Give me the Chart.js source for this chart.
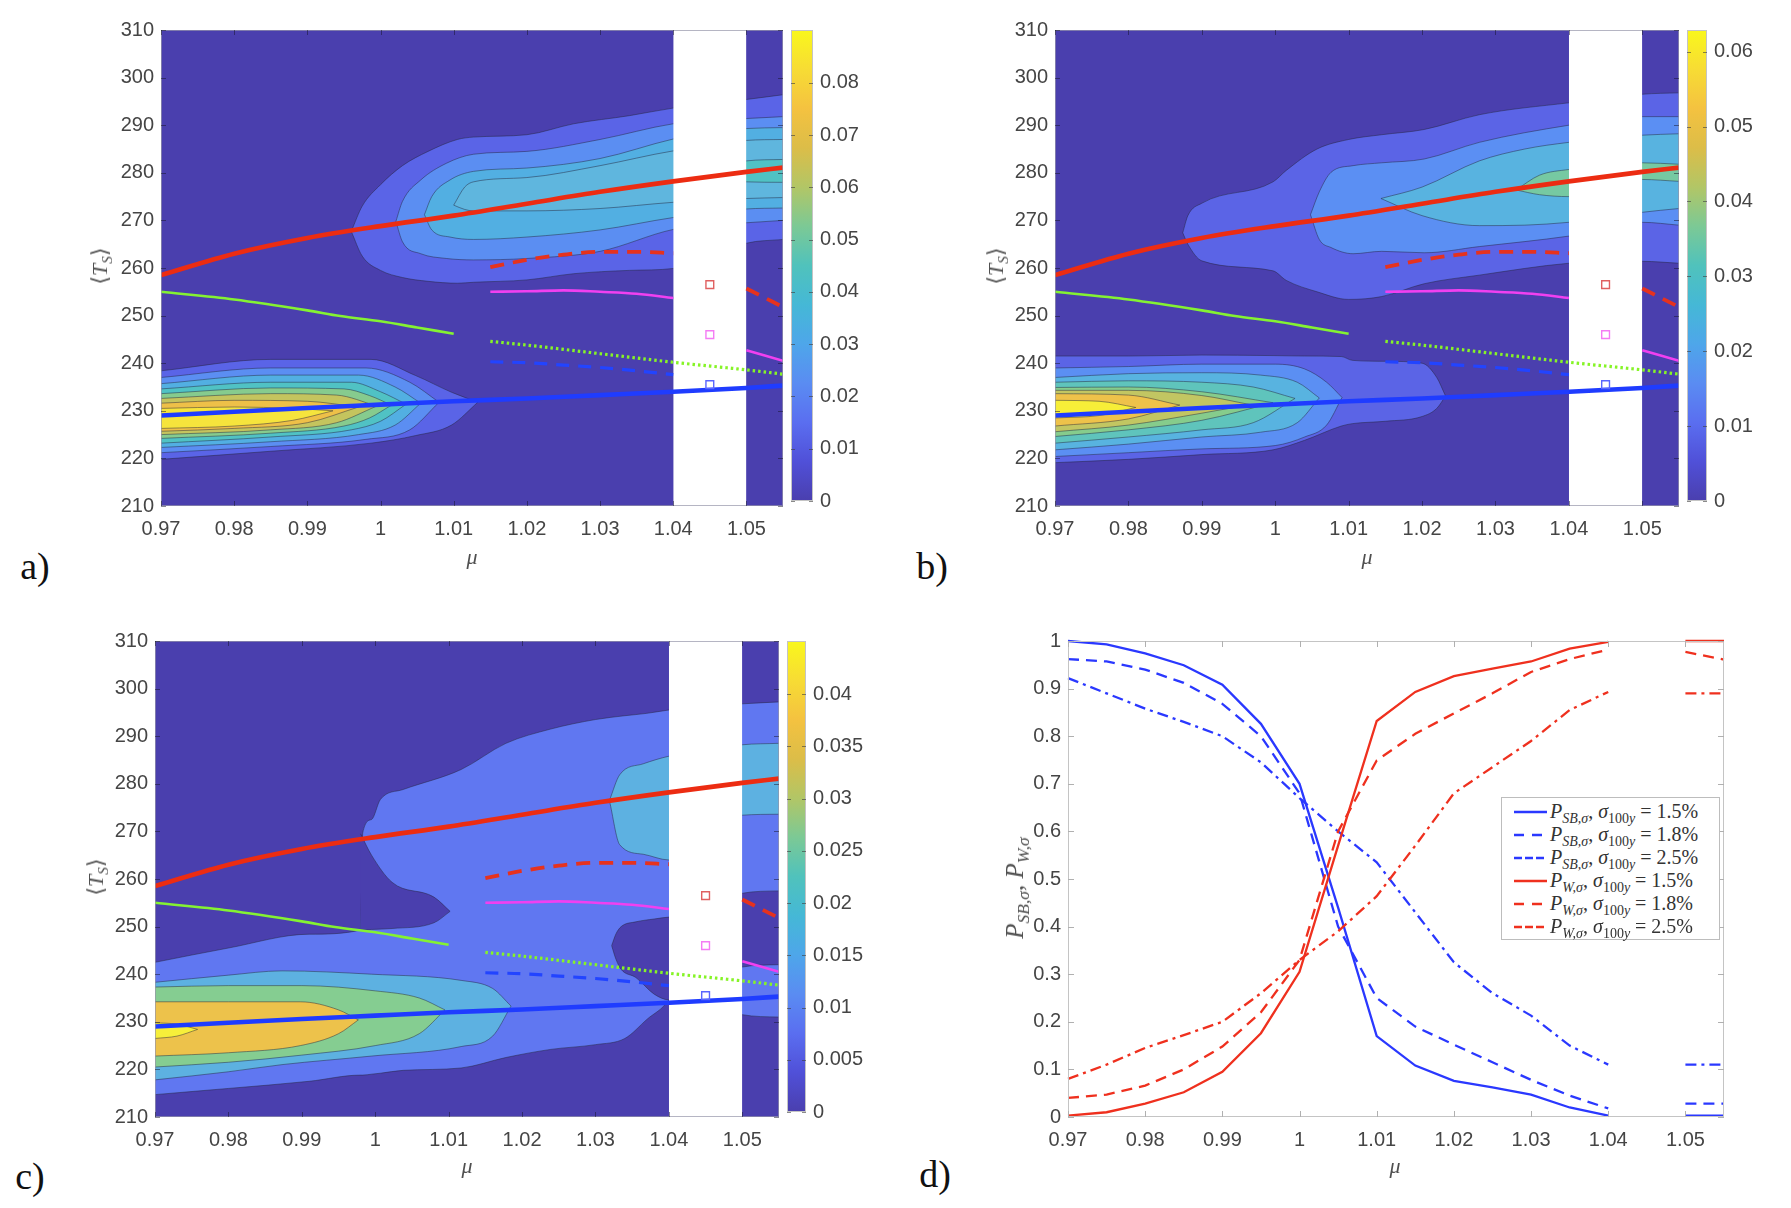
<!DOCTYPE html>
<html>
<head>
<meta charset="utf-8">
<title>Contour panels</title>
<script src="https://cdn.jsdelivr.net/npm/chart.js@4.4.1/dist/chart.umd.min.js"></script>
<style>
  html, body { margin: 0; padding: 0; background: #fff; }
  body { position: relative; width: 1791px; height: 1208px; overflow: hidden; }
  .panel { position: absolute; }
  .txt { position: absolute; font-family: "Liberation Serif", "DejaVu Serif", serif; color: #505050; white-space: nowrap; transform: translate(-50%, -50%); }
  .tag { font-size: 38px; color: #111; }
  .ax { font-size: 22px; }
  .py { font-size: 25px; }
  .rot { transform: translate(-50%, -50%) rotate(-90deg); }
  .legend { position: absolute; background: #fff; border: 1px solid #bdbdbd; font-family: "Liberation Serif", "DejaVu Serif", serif; font-size: 20px; color: #333; padding: 2px 4px 0 12px; box-sizing: border-box; }
  .legend div { height: 23px; display: flex; align-items: center; white-space: nowrap; }
  .legend svg { margin-right: 3px; flex: none; }
  sub { font-size: 70%; line-height: 0; }
</style>
</head>
<body>
<div class="panel" id="wa"><canvas id="ca"></canvas></div>
<div class="panel" id="wb"><canvas id="cb"></canvas></div>
<div class="panel" id="wc"><canvas id="cc"></canvas></div>
<div class="panel" id="wd"><canvas id="cd"></canvas></div>
<div class="panel" id="wka"><canvas id="cka"></canvas></div>
<div class="panel" id="wkb"><canvas id="ckb"></canvas></div>
<div class="panel" id="wkc"><canvas id="ckc"></canvas></div>
<div class="legend" id="leg"></div>

<div class="txt tag" style="left:35px;top:566px">a)</div>
<div class="txt tag" style="left:932px;top:566px">b)</div>
<div class="txt tag" style="left:30px;top:1176px">c)</div>
<div class="txt tag" style="left:935px;top:1174px">d)</div>
<div class="txt ax" style="left:472px;top:557px"><i>μ</i></div>
<div class="txt ax" style="left:1367px;top:557px"><i>μ</i></div>
<div class="txt ax" style="left:467px;top:1166px"><i>μ</i></div>
<div class="txt ax" style="left:1395px;top:1166px"><i>μ</i></div>
<div class="txt ax rot" style="left:100px;top:266px">⟨<i>T</i><sub><i>S</i></sub>⟩</div>
<div class="txt ax rot" style="left:996px;top:266px">⟨<i>T</i><sub><i>S</i></sub>⟩</div>
<div class="txt ax rot" style="left:96px;top:877px">⟨<i>T</i><sub><i>S</i></sub>⟩</div>
<div class="txt py rot" style="left:1015px;top:888px"><i>P</i><sub><i>SB,σ</i></sub>, <i>P</i><sub><i>W,σ</i></sub></div>

<script>
// ---- axes ----
var muTicks = [0.97, 0.98, 0.99, 1, 1.01, 1.02, 1.03, 1.04, 1.05];
var muRange = [0.97, 1.055];
var tsTicks = [210, 220, 230, 240, 250, 260, 270, 280, 290, 300, 310];
var tsRange = [210, 310];
var pTicks = [0, 0.1, 0.2, 0.3, 0.4, 0.5, 0.6, 0.7, 0.8, 0.9, 1];
var gapMu = [1.04, 1.05];

// colorbars
var cbTicksA = [0, 0.01, 0.02, 0.03, 0.04, 0.05, 0.06, 0.07, 0.08];
var cbMaxA = 0.0901;
var cbTicksB = [0, 0.01, 0.02, 0.03, 0.04, 0.05, 0.06];
var cbMaxB = 0.0629;
var cbTicksC = [0, 0.005, 0.01, 0.015, 0.02, 0.025, 0.03, 0.035, 0.04];
var cbMaxC = 0.0451;

// ---- curves drawn over the contours (same in a, b, c) ----
var redMu = [0.97, 0.98, 0.99, 1.0, 1.01, 1.02, 1.03, 1.04, 1.05, 1.055];
var redT = [258.5, 263, 266.3, 268.8, 271, 273.5, 276, 278.2, 280.2, 281.1];
var blueT = [229, 229.8, 230.6, 231.3, 232, 232.6, 233.3, 234, 234.8, 235.3];
var greenMu = [0.97, 0.98, 0.99, 0.9945, 1.0, 1.005, 1.01];
var greenT = [255, 253.4, 251.1, 249.9, 248.8, 247.5, 246.2];
var dotMu = [1.015, 1.02, 1.03, 1.04, 1.05, 1.055];
var dotT = [244.6, 243.8, 242, 240.2, 238.6, 237.7];
var rdashMu = [1.015, 1.02, 1.025, 1.03, 1.035, 1.04, 1.045, 1.05, 1.055];
var rdashT = [260.2, 261.7, 262.8, 263.4, 263.4, 263.1, null, 255.7, 251.8];
var magT = [255, 255.1, 255.3, 255, 254.6, 253.7, null, 242.7, 240.5];
var bdashMu = [1.015, 1.02, 1.025, 1.03, 1.035, 1.04];
var bdashT = [240.3, 240.1, 239.6, 239.1, 238.4, 237.6];
var sqMu = [1.045, 1.045, 1.045];
var sqT = [256.5, 246, 235.5];

// ---- panel a contours ----
var a_l1_mu = [0.97, 0.985, 0.9987, 1.0048, 1.0097, 1.0133];
var a_l1_top = [238.4, 240.8, 240.8, 237.4, 233.9, 231.8];
var a_l1_bot = [219.8, 221.5, 223.2, 224.8, 227, 231.8];
var a_l2_mu = [0.97, 0.985, 0.998, 1.004, 1.008];
var a_l2_top = [237, 239, 239, 236, 231.8];
var a_l2_bot = [221.2, 222.5, 224, 226, 231.8];
var a_l3_mu = [0.97, 0.985, 0.997, 1.002, 1.0055];
var a_l3_top = [235.7, 237.5, 237.5, 235, 231.6];
var a_l3_bot = [222.3, 223.5, 225, 227, 231.6];
var a_l4_mu = [0.97, 0.985, 0.996, 1.0, 1.0035];
var a_l4_top = [234.6, 236, 236, 234, 231.4];
var a_l4_bot = [223.2, 224.5, 226, 227.8, 231.4];
var a_l5_mu = [0.97, 0.985, 0.995, 0.9985, 1.0015];
var a_l5_top = [233.6, 234.8, 234.6, 233.2, 231.2];
var a_l5_bot = [224.2, 225.3, 226.8, 228.5, 231.2];
var a_l6_mu = [0.97, 0.985, 0.994, 0.9995];
var a_l6_top = [232.6, 233.6, 233.3, 231];
var a_l6_bot = [225, 226, 227.5, 231];
var a_l7_mu = [0.97, 0.98, 0.99, 0.997];
var a_l7_top = [231.6, 232.2, 232, 230.8];
var a_l7_bot = [225.7, 226.3, 227.5, 230.8];
var a_l8_mu = [0.97, 0.98, 0.988, 0.9935];
var a_l8_top = [230.5, 230.8, 230.5, 230];
var a_l8_bot = [226.3, 226.8, 228, 230];
var a_u1_mu = [0.996, 0.9975, 1.0, 1.003, 1.0065, 1.0105, 1.0127, 1.02, 1.0264, 1.034, 1.04, 1.045, 1.05, 1.055];
var a_u1_top = [267.7, 273, 277.5, 281.5, 284.5, 287, 287.5, 288, 290.3, 292, 293.6, 294.5, 295.4, 296.4];
var a_u1_bot = [267.7, 262.5, 259.5, 258, 257.2, 256.8, 257, 257.5, 258.8, 259.5, 259.9, 262, 265.2, 266];
var a_u2_mu = [1.0021, 1.003, 1.0055, 1.009, 1.0127, 1.02, 1.03, 1.04, 1.045, 1.05, 1.055];
var a_u2_top = [269.8, 274, 278.5, 282, 283.9, 284.5, 287, 290.3, 291, 291.4, 291.8];
var a_u2_bot = [269.8, 265.5, 263, 262, 261.7, 262, 263.5, 268.1, 269, 269.5, 270];
var a_u3_mu = [1.006, 1.007, 1.0095, 1.0127, 1.02, 1.03, 1.04, 1.045, 1.05, 1.055];
var a_u3_top = [271.2, 275, 278.5, 280.3, 281, 283, 287.1, 288.5, 289.3, 289.5];
var a_u3_bot = [271.2, 268, 266.5, 266, 266.5, 268, 270.6, 271.5, 272.4, 272.6];
var a_u4_mu = [1.01, 1.0115, 1.0127, 1.02, 1.03, 1.04, 1.045, 1.05, 1.055];
var a_u4_top = [273.2, 277, 278.1, 279, 281.5, 284.6, 285.5, 286.8, 287];
var a_u4_bot = [273.2, 272.3, 272, 272, 272.5, 273.8, 274.2, 274.6, 274.8];
var a_u5_mu = [1.045, 1.05, 1.055];
var a_u5_top = [280.3, 282.5, 282.8];
var a_u5_bot = [280.3, 278.1, 278];
var aColors = ['#5a64e7', '#5b8ef2', '#52afe2', '#50c2c4', '#86cb8e', '#c4c45e', '#eec048', '#f6e43c'];
var aCoreColor = '#5fb6de';

// ---- panel b contours ----
var b_l1_mu = [0.97, 0.98, 0.99, 0.9997, 1.004, 1.009, 1.0105, 1.015, 1.02, 1.022, 1.0232];
var b_l1_top = [241.5, 241.5, 241.7, 241.6, 241.5, 241.4, 240.6, 240.4, 240, 237, 233.1];
var b_l1_bot = [219.1, 219.8, 220.8, 221.8, 223.8, 226.8, 227.3, 227.8, 228.8, 230.5, 233.1];
var b_l2_mu = [0.97, 0.98, 0.99, 1.0, 1.004, 1.007, 1.0091];
var b_l2_top = [239, 239.3, 239.8, 239.8, 238.8, 236, 232.8];
var b_l2_bot = [220.4, 221.2, 222, 222.7, 224.5, 227, 232.8];
var b_l3_mu = [0.97, 0.98, 0.99, 0.998, 1.003, 1.006];
var b_l3_top = [237, 237.8, 238, 237.5, 236, 232.7];
var b_l3_bot = [221.8, 223, 224.5, 225.5, 227.5, 232.7];
var b_l4_mu = [0.97, 0.98, 0.99, 0.997, 1.0027];
var b_l4_top = [236, 236.3, 236, 235, 232.6];
var b_l4_bot = [223.2, 224.5, 226, 227.5, 232.6];
var b_l5_mu = [0.97, 0.98, 0.99, 0.9997];
var b_l5_top = [234.9, 235, 234, 231.7];
var b_l5_bot = [224.6, 226, 228, 231.7];
var b_l6_mu = [0.97, 0.98, 0.99, 0.9966];
var b_l6_top = [234.3, 234.3, 233.2, 231.3];
var b_l6_bot = [225.6, 227, 229.5, 231.3];
var b_l7_mu = [0.97, 0.98, 0.987];
var b_l7_top = [233.6, 233.3, 231.2];
var b_l7_bot = [226.8, 228.3, 231.2];
var b_l8_mu = [0.97, 0.976, 0.981];
var b_l8_top = [232.2, 232, 230.7];
var b_l8_bot = [228.5, 229, 230.7];
var b_u1_mu = [0.9874, 0.9881, 0.99, 0.9997, 1.0015, 1.0057, 1.01, 1.0145, 1.0203, 1.0278, 1.04, 1.045, 1.05, 1.055];
var b_u1_top = [267.4, 271, 273.6, 278.1, 280.5, 285, 287, 288, 289.1, 292.2, 294.7, 295.5, 296.5, 296.8];
var b_u1_bot = [267.4, 265, 261.5, 259.4, 257.4, 255, 253.4, 254, 256.7, 258.5, 261, 261.3, 261.4, 261];
var b_u2_mu = [1.0048, 1.006, 1.0076, 1.0106, 1.0145, 1.0203, 1.0278, 1.04, 1.045, 1.05, 1.055];
var b_u2_top = [271.2, 276, 280.1, 281.5, 282.1, 282.9, 286.4, 290, 291, 291.8, 291.8];
var b_u2_bot = [271.2, 266, 264.3, 263, 263.5, 263.2, 264.5, 266.7, 268, 269.6, 269];
var b_u3_mu = [1.0144, 1.02, 1.0278, 1.034, 1.04, 1.045, 1.05, 1.055];
var b_u3_top = [274.6, 277, 282.5, 285, 286.4, 287.2, 287.9, 288.2];
var b_u3_bot = [274.6, 271, 268.9, 269, 269.6, 270.5, 271.7, 272.5];
var b_u4_mu = [1.0328, 1.036, 1.04, 1.045, 1.05, 1.055];
var b_u4_top = [276.4, 279.5, 280.7, 281.5, 282.1, 281.8];
var b_u4_bot = [276.4, 275.4, 275, 276.5, 278.6, 278.2];
var bColors = ['#5b64e6', '#5b8ff3', '#58b3e0', '#5fc4bc', '#86cc8c', '#c2c662', '#eec24a', '#f7ee38'];
var bCoreColor = '#76c9a2';

// ---- panel c contours ----
var c_l1_mu = [0.97, 0.98, 0.991, 0.998, 0.9983, 0.9995, 1.0007, 1.0038, 1.0117, 1.0178, 1.0239, 1.03, 1.034, 1.037, 1.04, 1.045, 1.05, 1.055];
var c_l1_top = [242.5, 245.5, 248.4, 249.3, 269.7, 272.5, 276.7, 278.8, 283, 288.5, 291.5, 293.5, 294.3, 294.8, 295.5, 296.2, 296.8, 297.2];
var c_l1_bot = [214.7, 216, 217.5, 218.8, 218.8, 219, 219.2, 219.8, 220.3, 222.5, 224.2, 225.2, 226.5, 230.5, 234.6, 250, 257, 257.5];
var c_nose_mu = [0.998, 0.9995, 1.0023, 1.008, 1.0102];
var c_nose_top = [269.5, 265, 259.3, 256.2, 253.2];
var c_nose_bot = [249.3, 249.4, 249.6, 250.8, 253.2];
var c_bay_mu = [1.0322, 1.0328, 1.0335, 1.0355, 1.038, 1.04, 1.045];
var c_bay_top = [246, 248.5, 250, 251, 251.6, 252, 252.5];
var c_bay_bot = [246, 243.1, 241, 239.3, 235.8, 234.6, 234.5];
var c_l2_mu = [0.97, 0.98, 0.9873, 0.9995, 1.0117, 1.016, 1.0185];
var c_l2_top = [238.3, 239.8, 240.7, 240, 238.7, 237, 233.3];
var c_l2_bot = [217.8, 219.5, 221, 222.8, 224.8, 227, 233.3];
var c_u2_mu = [1.0319, 1.0333, 1.0365, 1.04, 1.045, 1.05, 1.055];
var c_u2_top = [276.5, 281.9, 284.2, 285.8, 287, 288.2, 288.5];
var c_u2_bot = [276.5, 267.2, 265.2, 264, 268, 273.4, 273.6];
var c_r1_mu = [1.045, 1.05, 1.055];
var c_r1_top = [236, 241.5, 242];
var c_r1_bot = [236, 231.5, 231];
var c_l3_mu = [0.97, 0.98, 0.99, 1.0, 1.006, 1.0095];
var c_l3_top = [237.3, 237.6, 237.6, 236.5, 235, 232.5];
var c_l3_bot = [220.5, 221.5, 223, 225, 227.5, 232.5];
var c_l4_mu = [0.97, 0.98, 0.9898, 0.995, 0.9977];
var c_l4_top = [234.2, 234.2, 234.2, 232.5, 230.4];
var c_l4_bot = [222.8, 223.5, 225, 227.5, 230.4];
var c_l5_mu = [0.97, 0.973, 0.9758];
var c_l5_top = [229.8, 229.5, 228.4];
var c_l5_bot = [226.5, 227, 228.4];
var cColors = ['#6077f1', '#5db1e1', '#85cd91', '#edc24b', '#f7ef3a'];

// ---- panel d ----
var dMu = [0.97, 0.975, 0.98, 0.985, 0.99, 0.995, 1.0, 1.005, 1.01, 1.015, 1.02, 1.025, 1.03, 1.035, 1.04, 1.045, 1.05, 1.055];
var pSB15 = [1.0, 0.993, 0.974, 0.949, 0.908, 0.826, 0.70, 0.44, 0.17, 0.108, 0.076, 0.062, 0.047, 0.02, 0.003, null, 0.003, 0.003];
var pSB18 = [0.962, 0.957, 0.94, 0.912, 0.868, 0.80, 0.68, 0.40, 0.25, 0.19, 0.152, 0.115, 0.078, 0.045, 0.018, null, 0.028, 0.028];
var pSB25 = [0.922, 0.89, 0.858, 0.83, 0.80, 0.745, 0.67, 0.60, 0.535, 0.43, 0.325, 0.26, 0.213, 0.15, 0.11, null, 0.11, 0.11];
var pW15 = [0.003, 0.01, 0.028, 0.052, 0.095, 0.176, 0.305, 0.57, 0.832, 0.893, 0.926, 0.942, 0.957, 0.984, 0.998, null, 1.0, 1.0];
var pW18 = [0.04, 0.047, 0.066, 0.10, 0.148, 0.22, 0.33, 0.60, 0.749, 0.805, 0.848, 0.89, 0.935, 0.962, 0.982, null, 0.977, 0.961];
var pW25 = [0.08, 0.11, 0.145, 0.172, 0.20, 0.26, 0.33, 0.39, 0.464, 0.57, 0.68, 0.735, 0.79, 0.855, 0.893, null, 0.89, 0.89];
var dNames = ['SB', 'SB', 'SB', 'W', 'W', 'W'];
var dSigmas = ['1.5%', '1.8%', '2.5%', '1.5%', '1.8%', '2.5%'];

// ---- layout (page pixels) ----
var rectA = [161, 25, 622, 481], rectB = [1055, 25, 624, 481];
var rectC = [155, 636, 624, 481], rectD = [1068, 636, 656, 481];
var barA = [791, 25, 22, 481], barB = [1687, 25, 20, 481], barC = [787, 636, 19, 481];
var legRect = [1501, 797, 219, 143];

var bgColor = '#4a3fae';
var lineC = 'rgba(35,35,60,0.6)';
var cbStops = ['#4a3fae', '#5050d8', '#5a6ef0', '#5a8cf2', '#4ea6ea', '#45b8d6', '#50c2bc', '#7cc995', '#b2c666', '#dcbd48', '#f4c240', '#f7dc34', '#f9f71c'];
var tickFont = { family: '"Liberation Sans", Arial, Helvetica, sans-serif', size: 20 };

// background + box + inward ticks
var frame = {
  id: 'frame',
  beforeDraw: function (chart, args, o) {
    if (!o.bg) return;
    var a = chart.chartArea, c = chart.ctx;
    c.save();
    c.fillStyle = o.bg;
    c.fillRect(a.left, a.top, a.right - a.left, a.bottom - a.top);
    c.restore();
  },
  afterDraw: function (chart, args, o) {
    if (!o.color) return;
    var a = chart.chartArea, c = chart.ctx, L = o.len || 6;
    c.save();
    c.strokeStyle = o.color;
    c.lineWidth = 1;
    c.strokeRect(a.left + 0.5, a.top + 0.5, a.right - a.left - 1, a.bottom - a.top - 1);
    c.strokeStyle = o.tickColor || o.color;
    c.beginPath();
    Object.keys(chart.scales).forEach(function (k) {
      var s = chart.scales[k];
      if (s.options.display === false) return;
      s.ticks.forEach(function (t) {
        var p = Math.round(s.getPixelForValue(t.value)) + 0.5;
        if (s.isHorizontal()) {
          c.moveTo(p, a.bottom); c.lineTo(p, a.bottom - L);
          c.moveTo(p, a.top); c.lineTo(p, a.top + L);
        } else {
          c.moveTo(a.left, p); c.lineTo(a.left + L, p);
          c.moveTo(a.right, p); c.lineTo(a.right - L, p);
        }
      });
    });
    c.stroke();
    c.restore();
  }
};

function fmt(v) { return String(Number(Number(v).toFixed(4))); }
function fixedTicks(list) {
  return function (s) { s.ticks = list.map(function (v) { return { value: v }; }); };
}
function pts(xs, ys) {
  return xs.map(function (x, i) { return { x: x, y: ys[i] }; });
}
function place(id, left, top, w, h) {
  var el = document.getElementById(id);
  el.style.left = left + 'px'; el.style.top = top + 'px';
  el.style.width = w + 'px'; el.style.height = h + 'px';
}

function addBand(ds, mu, top, bot, color) {
  var i = ds.length;
  ds.push({ data: pts(mu, top), borderColor: lineC, borderWidth: 0.8, backgroundColor: color, fill: i + 1, cubicInterpolationMode: 'monotone' });
  ds.push({ data: pts(mu, bot), borderColor: lineC, borderWidth: 0.8, fill: false, cubicInterpolationMode: 'monotone' });
}
function addLine(ds, mu, t, color, width, dash, smooth) {
  ds.push({ data: pts(mu, t), borderColor: color, borderWidth: width, borderDash: dash || [], fill: false,
            cubicInterpolationMode: smooth ? 'monotone' : 'default', tension: 0, borderCapStyle: 'butt' });
}
function addOverlay(ds) {
  ds.push({ data: pts(gapMu, [tsRange[1], tsRange[1]]), fill: 'start', backgroundColor: '#ffffff', borderWidth: 0 });
  addLine(ds, greenMu, greenT, '#84f232', 2.6, [], true);
  addLine(ds, rdashMu, magT, '#f040f0', 2.6, [], true);
  addLine(ds, dotMu, dotT, '#86f426', 3.2, [2.5, 3], true);
  addLine(ds, bdashMu, bdashT, '#2244ff', 3.2, [13, 9], true);
  addLine(ds, rdashMu, rdashT, '#e6321e', 3.8, [14, 9], true);
  addLine(ds, redMu, blueT, '#1f3cff', 4.6, [], true);
  addLine(ds, redMu, redT, '#ec2c12', 4.6, [], true);
  ds.push({ data: pts(sqMu, sqT), showLine: false, pointStyle: 'rect', pointRadius: 5.5,
            pointBorderColor: ['#e06060', '#f47cf4', '#5a66ff'], pointBackgroundColor: 'rgba(0,0,0,0)', pointBorderWidth: 1.4 });
}
function finish(ds, clip) {
  ds.forEach(function (d, i) {
    d.order = ds.length - i;
    if (d.pointRadius === undefined) d.pointRadius = 0;
    if (clip !== undefined) d.clip = clip;
  });
  return ds;
}

function mainChart(canvasId, wrapId, rect, ds, yTicks, yRange, frameOpt) {
  var ML = 70, MT = 14, MR = 14, MB = 50;
  place(wrapId, rect[0] - ML, rect[1] - MT, rect[2] + ML + MR, rect[3] + MT + MB);
  return new Chart(document.getElementById(canvasId), {
    type: 'line',
    data: { datasets: ds },
    options: {
      responsive: true, maintainAspectRatio: false, animation: false, events: [],
      layout: { padding: { left: 0, top: MT, right: MR, bottom: 0 } },
      plugins: { legend: { display: false }, tooltip: { enabled: false }, frame: frameOpt },
      scales: {
        x: {
          type: 'linear', min: muRange[0], max: muRange[1],
          afterBuildTicks: fixedTicks(muTicks), afterFit: function (s) { s.height = MB; },
          grid: { display: false, drawTicks: false }, border: { display: false },
          ticks: { font: tickFont, color: '#454545', padding: 11, maxRotation: 0, autoSkip: false, callback: fmt }
        },
        y: {
          min: yRange[0], max: yRange[1],
          afterBuildTicks: fixedTicks(yTicks), afterFit: function (s) { s.width = ML; },
          grid: { display: false, drawTicks: false }, border: { display: false },
          ticks: { font: tickFont, color: '#454545', padding: 7, autoSkip: false, callback: fmt }
        }
      }
    },
    plugins: [frame]
  });
}

function colorbar(canvasId, wrapId, rect, ticks, max) {
  var MW = 80, MT = 14;
  place(wrapId, rect[0], rect[1] - MT, rect[2] + MW, rect[3] + 2 * MT);
  return new Chart(document.getElementById(canvasId), {
    type: 'bar',
    data: {
      labels: [''],
      datasets: [{
        data: [[0, max]], barPercentage: 1, categoryPercentage: 1, borderWidth: 0,
        backgroundColor: function (ctx) {
          var a = ctx.chart.chartArea;
          if (!a) return cbStops[0];
          var g = ctx.chart.ctx.createLinearGradient(0, a.bottom, 0, a.top);
          cbStops.forEach(function (c, i) { g.addColorStop(i / (cbStops.length - 1), c); });
          return g;
        }
      }]
    },
    options: {
      responsive: true, maintainAspectRatio: false, animation: false, events: [],
      layout: { padding: { left: 0, top: MT, right: 0, bottom: MT } },
      plugins: { legend: { display: false }, tooltip: { enabled: false }, frame: { color: '#c4c4c4', tickColor: 'rgba(60,60,60,0.6)', len: 4 } },
      scales: {
        x: { display: false },
        y: {
          position: 'right', min: 0, max: max,
          afterBuildTicks: fixedTicks(ticks), afterFit: function (s) { s.width = MW; },
          grid: { display: false, drawTicks: false }, border: { display: false },
          ticks: { font: tickFont, color: '#454545', padding: 7, autoSkip: false, callback: fmt }
        }
      }
    },
    plugins: [frame]
  });
}

var contourFrame = { bg: bgColor, color: 'rgba(150,150,170,0.7)', tickColor: 'rgba(20,20,40,0.5)', len: 5 };

// panel a
var dsA = [];
addBand(dsA, a_u1_mu, a_u1_top, a_u1_bot, aColors[0]);
addBand(dsA, a_u2_mu, a_u2_top, a_u2_bot, aColors[1]);
addBand(dsA, a_u3_mu, a_u3_top, a_u3_bot, aColors[2]);
addBand(dsA, a_u4_mu, a_u4_top, a_u4_bot, aCoreColor);
addBand(dsA, a_u5_mu, a_u5_top, a_u5_bot, aColors[3]);
addBand(dsA, a_l1_mu, a_l1_top, a_l1_bot, aColors[0]);
addBand(dsA, a_l2_mu, a_l2_top, a_l2_bot, aColors[1]);
addBand(dsA, a_l3_mu, a_l3_top, a_l3_bot, aColors[2]);
addBand(dsA, a_l4_mu, a_l4_top, a_l4_bot, aColors[3]);
addBand(dsA, a_l5_mu, a_l5_top, a_l5_bot, aColors[4]);
addBand(dsA, a_l6_mu, a_l6_top, a_l6_bot, aColors[5]);
addBand(dsA, a_l7_mu, a_l7_top, a_l7_bot, aColors[6]);
addBand(dsA, a_l8_mu, a_l8_top, a_l8_bot, aColors[7]);
addOverlay(dsA);
mainChart('ca', 'wa', rectA, finish(dsA), tsTicks, tsRange, contourFrame);
colorbar('cka', 'wka', barA, cbTicksA, cbMaxA);

// panel b
var dsB = [];
addBand(dsB, b_u1_mu, b_u1_top, b_u1_bot, bColors[0]);
addBand(dsB, b_u2_mu, b_u2_top, b_u2_bot, bColors[1]);
addBand(dsB, b_u3_mu, b_u3_top, b_u3_bot, bColors[2]);
addBand(dsB, b_u4_mu, b_u4_top, b_u4_bot, bCoreColor);
addBand(dsB, b_l1_mu, b_l1_top, b_l1_bot, bColors[0]);
addBand(dsB, b_l2_mu, b_l2_top, b_l2_bot, bColors[1]);
addBand(dsB, b_l3_mu, b_l3_top, b_l3_bot, bColors[2]);
addBand(dsB, b_l4_mu, b_l4_top, b_l4_bot, bColors[3]);
addBand(dsB, b_l5_mu, b_l5_top, b_l5_bot, bColors[4]);
addBand(dsB, b_l6_mu, b_l6_top, b_l6_bot, bColors[5]);
addBand(dsB, b_l7_mu, b_l7_top, b_l7_bot, bColors[6]);
addBand(dsB, b_l8_mu, b_l8_top, b_l8_bot, bColors[7]);
addOverlay(dsB);
mainChart('cb', 'wb', rectB, finish(dsB), tsTicks, tsRange, contourFrame);
colorbar('ckb', 'wkb', barB, cbTicksB, cbMaxB);

// panel c
var dsC = [];
addBand(dsC, c_l1_mu, c_l1_top, c_l1_bot, cColors[0]);
addBand(dsC, c_nose_mu, c_nose_top, c_nose_bot, bgColor);
addBand(dsC, c_bay_mu, c_bay_top, c_bay_bot, bgColor);
addBand(dsC, c_r1_mu, c_r1_top, c_r1_bot, cColors[0]);
addBand(dsC, c_u2_mu, c_u2_top, c_u2_bot, cColors[1]);
addBand(dsC, c_l2_mu, c_l2_top, c_l2_bot, cColors[1]);
addBand(dsC, c_l3_mu, c_l3_top, c_l3_bot, cColors[2]);
addBand(dsC, c_l4_mu, c_l4_top, c_l4_bot, cColors[3]);
addBand(dsC, c_l5_mu, c_l5_top, c_l5_bot, cColors[4]);
addOverlay(dsC);
mainChart('cc', 'wc', rectC, finish(dsC), tsTicks, tsRange, contourFrame);
colorbar('ckc', 'wkc', barC, cbTicksC, cbMaxC);

// panel d
var dSeries = [
  { y: pSB15, color: '#2a38ff', dash: [] },
  { y: pSB18, color: '#2a38ff', dash: [11, 7] },
  { y: pSB25, color: '#2a38ff', dash: [11, 5, 3, 5] },
  { y: pW15, color: '#ef301e', dash: [] },
  { y: pW18, color: '#ef301e', dash: [11, 7] },
  { y: pW25, color: '#ef301e', dash: [11, 5, 3, 5] }
];
var dsD = [];
dSeries.forEach(function (s) { addLine(dsD, dMu, s.y, s.color, 2.3, s.dash, false); });
mainChart('cd', 'wd', rectD, finish(dsD, 3), pTicks, [0, 1],
  { color: '#c4c4c4', tickColor: '#b0b0b0', len: 6 });

// legend for d, built from the series
var leg = document.getElementById('leg');
leg.style.left = legRect[0] + 'px'; leg.style.top = legRect[1] + 'px';
leg.style.width = legRect[2] + 'px'; leg.style.height = legRect[3] + 'px';
var legDash = [[], [10, 8], [8, 3, 8, 3]];
dSeries.forEach(function (s, i) {
  var row = document.createElement('div');
  var dash = legDash[i % 3];
  row.innerHTML = '<svg width="33" height="10"><line x1="0" y1="5" x2="33" y2="5" stroke="' + s.color +
    '" stroke-width="2.4" stroke-dasharray="' + (dash.length ? dash.join(',') : 'none') + '"/></svg>' +
    '<span><i>P</i><sub><i>' + dNames[i] + ',σ</i></sub>, <i>σ</i><sub>100<i>y</i></sub> = ' + dSigmas[i] + '</span>';
  leg.appendChild(row);
});
</script>
</body>
</html>
